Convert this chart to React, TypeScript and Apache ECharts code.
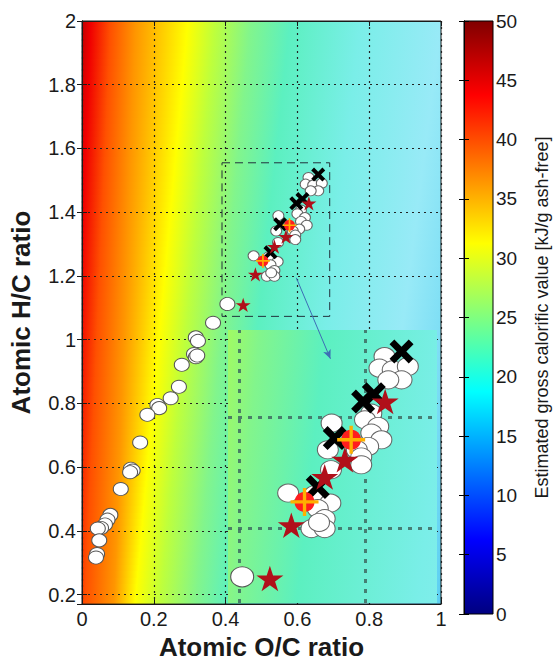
import React, { useEffect, useRef } from 'react';
import * as echarts from 'echarts';

const FONT = '"Liberation Sans", Arial, Helvetica, sans-serif';

// ---- data (atomic O/C, atomic H/C) ----
const litOC = [0.405, 0.365, 0.317, 0.323, 0.312, 0.317, 0.321, 0.278, 0.27, 0.247, 0.21, 0.215, 0.182, 0.162, 0.136, 0.141, 0.134, 0.108, 0.079, 0.071, 0.064, 0.053, 0.044, 0.048, 0.042, 0.039];
const litHC = [1.112, 1.053, 1.007, 0.996, 0.955, 0.945, 0.95, 0.921, 0.852, 0.816, 0.795, 0.785, 0.764, 0.677, 0.595, 0.589, 0.584, 0.531, 0.45, 0.435, 0.42, 0.409, 0.407, 0.37, 0.327, 0.316];

const clusterOC = [0.631, 0.623, 0.644, 0.668, 0.658, 0.637, 0.61, 0.6, 0.547, 0.621, 0.61, 0.626, 0.605, 0.587, 0.541, 0.594, 0.594, 0.546, 0.52, 0.478, 0.545, 0.525, 0.536, 0.515, 0.536, 0.527];
const clusterHC = [1.509, 1.488, 1.485, 1.491, 1.467, 1.467, 1.407, 1.395, 1.389, 1.383, 1.371, 1.359, 1.347, 1.341, 1.341, 1.328, 1.314, 1.305, 1.26, 1.263, 1.245, 1.235, 1.217, 1.199, 1.199, 1.21];

const crossOC = [0.658, 0.597, 0.614, 0.552, 0.525];
const crossHC = [1.518, 1.428, 1.441, 1.362, 1.274];

const starOC = [0.632, 0.568, 0.536, 0.483, 0.449];
const starHC = [1.428, 1.323, 1.292, 1.205, 1.109];

const refOC = [0.578, 0.504];
const refHC = [1.359, 1.247];

// zoom box in the main plot and the range shown by the enlarged view
const zoomBoxOC = [0.39, 0.69];
const zoomBoxHC = [1.073, 1.555];
const insetOC = [0.3825, 0.7143];
const insetHC = [1.0649, 1.5568];
const insetGridOC = [0.4, 0.6];
const insetGridHC = [1.2, 1.4];
const arrowFrom = [0.597, 1.194];
const arrowTo = [0.692, 0.94];

// background colour field: O/C position of each colour at H/C = 0.2 and at H/C = 2.0
const bgColors = ['#c00000', '#f00000', '#ff5000', '#ff9600', '#ffff00', '#beff3c', '#82f58c', '#5cf0c0', '#7aeee8', '#98eaf7', '#5ccff2'];
const bgOCLow = [-0.1, -0.04, 0.01, 0.09, 0.15, 0.22, 0.32, 0.41, 0.6, 0.8, 1.0];
const bgOCHigh = [0.0, 0.025, 0.08, 0.15, 0.295, 0.372, 0.47, 0.58, 0.775, 1.0, 1.3];

// jet colour map for the colour bar
const jetStops = [
  [0, '#000080'], [0.125, '#0000ff'], [0.375, '#00ffff'], [0.625, '#ffff00'], [0.875, '#ff0000'], [1, '#800000'],
];

const pts = (xs: number[], ys: number[]) => xs.map((x, i) => [x, ys[i]]);

const STAR = 'path://M0,-10L2.245,-3.09L9.511,-3.09L3.633,1.18L5.878,8.09L0,3.82L-5.878,8.09L-3.633,1.18L-9.511,-3.09L-2.245,-3.09Z';
const CROSS = 'path://M-10,-6L-6,-10L0,-4L6,-10L10,-6L4,0L10,6L6,10L0,4L-6,10L-10,6L-4,0Z';
const PLUS = 'path://M-1.2,-10L1.2,-10L1.2,-1.2L10,-1.2L10,1.2L1.2,1.2L1.2,10L-1.2,10L-1.2,1.2L-10,1.2L-10,-1.2L-1.2,-1.2Z';

function markerSeries(xi: number, z: number, big: boolean) {
  const s = (a: any, b: any) => (big ? b : a);
  const base = { type: 'scatter', xAxisIndex: xi, yAxisIndex: xi, z, silent: true };
  return [
    {
      ...base, data: pts(litOC, litHC), symbol: 'circle', symbolSize: s([15, 13], [23, 20]),
      itemStyle: { color: '#ffffff', borderColor: '#555', borderWidth: 1, opacity: 1 },
    },
    {
      ...base, data: pts(clusterOC, clusterHC), symbol: 'circle', symbolSize: s([11, 10], [21, 18]),
      itemStyle: { color: '#ffffff', borderColor: '#666', borderWidth: 1, opacity: 1 },
    },
    {
      ...base, data: pts(crossOC, crossHC), symbol: CROSS, symbolSize: s(14, 24),
      itemStyle: { color: '#000000', opacity: 1 },
    },
    {
      ...base, data: pts(starOC, starHC), symbol: STAR, symbolKeepAspect: true, symbolSize: s(15, 27),
      itemStyle: { color: '#b0101a', opacity: 1 },
    },
    {
      ...base, data: pts(refOC, refHC), symbol: 'circle', symbolSize: s(11, 20),
      itemStyle: { color: '#ff1e1e', opacity: 1 },
    },
    {
      ...base, data: pts(refOC, refHC), symbol: PLUS, symbolSize: s(14, 28),
      itemStyle: { color: '#ffb000', opacity: 1 },
    },
  ];
}

export default function App() {
  const ref = useRef<HTMLDivElement>(null);
  useEffect(() => {
    if (!ref.current) return;
    const chart = echarts.init(ref.current, null, { renderer: 'svg' });
    const axisCol = '#1a1a1a';
    const jet = new echarts.graphic.LinearGradient(0, 1, 0, 0, jetStops.map(([o, c]) => ({ offset: o as number, color: c as string })));

    const main = markerSeries(0, 5, false);
    (main[0] as any).markArea = {
      silent: true,
      z: 1,
      label: { show: false },
      itemStyle: { color: 'rgba(0,0,0,0)', borderColor: '#22323c', borderWidth: 1, borderType: [8, 5] },
      data: [[{ coord: [zoomBoxOC[0], zoomBoxHC[1]] }, { coord: [zoomBoxOC[1], zoomBoxHC[0]] }]],
    };
    (main[0] as any).markLine = {
      silent: true,
      z: 6,
      symbol: ['none', 'arrow'],
      symbolSize: [6, 9],
      label: { show: false },
      lineStyle: { color: '#3d6db5', width: 1, type: 'solid' },
      data: [[{ coord: arrowFrom }, { coord: arrowTo }]],
    };

    const option: any = {
      animation: false,
      textStyle: { fontFamily: FONT },
      grid: [
        { left: 81, top: 21, width: 360, height: 592, show: true, borderColor: axisCol, borderWidth: 1, backgroundColor: 'rgba(0,0,0,0)', z: 0 },
        { left: 228, top: 330, width: 209, height: 273, show: false, z: 1 },
        { left: 464, top: 21, width: 29, height: 593, show: true, borderColor: '#000', borderWidth: 1, backgroundColor: jet },
      ],
      xAxis: [
        {
          gridIndex: 0, type: 'value', min: 0, max: 1, interval: 0.2, position: 'bottom',
          axisLine: { show: true, lineStyle: { color: axisCol } },
          axisTick: { show: true, inside: true, length: 5, lineStyle: { color: axisCol } },
          axisLabel: { fontSize: 20, color: axisCol, margin: 5, fontFamily: FONT },
          splitLine: { show: true, lineStyle: { type: [2, 4], color: '#222', width: 1.2 } },
          name: 'Atomic O/C ratio', nameLocation: 'middle', nameGap: 26,
          nameTextStyle: { fontSize: 26, fontWeight: 'bold', color: axisCol, fontFamily: FONT },
        },
        {
          gridIndex: 0, type: 'value', min: 0, max: 1, interval: 0.2, position: 'top',
          axisLine: { show: true, lineStyle: { color: axisCol } },
          axisTick: { show: true, inside: true, length: 5, lineStyle: { color: axisCol } },
          axisLabel: { show: false }, splitLine: { show: false },
        },
        { gridIndex: 1, type: 'value', min: insetOC[0], max: insetOC[1], show: false },
        { gridIndex: 2, type: 'value', min: 0, max: 1, show: false },
      ],
      yAxis: [
        {
          gridIndex: 0, type: 'value', min: 0.17, max: 2, splitNumber: 9, position: 'left',
          axisLine: { show: true, lineStyle: { color: axisCol } },
          axisTick: { show: true, inside: true, length: 5, lineStyle: { color: axisCol } },
          axisLabel: {
            fontSize: 20, color: axisCol, margin: 6, fontFamily: FONT,
            formatter: (v: number) => (Math.abs(v * 5 - Math.round(v * 5)) < 1e-6 ? String(Math.round(v * 10) / 10) : ''),
          },
          splitLine: { show: true, lineStyle: { type: [2, 4], color: '#222', width: 1.2 } },
          name: 'Atomic H/C ratio', nameLocation: 'middle', nameGap: 48,
          nameTextStyle: { fontSize: 26, fontWeight: 'bold', color: axisCol, fontFamily: FONT },
        },
        {
          gridIndex: 0, type: 'value', min: 0.17, max: 2, splitNumber: 9, position: 'right',
          axisLine: { show: true, lineStyle: { color: axisCol } },
          axisTick: { show: true, inside: true, length: 5, lineStyle: { color: axisCol } },
          axisLabel: { show: false }, splitLine: { show: false },
        },
        { gridIndex: 1, type: 'value', min: insetHC[0], max: insetHC[1], show: false },
        {
          gridIndex: 2, type: 'value', min: 0, max: 50, interval: 5, position: 'right',
          axisLine: { show: true, lineStyle: { color: '#000' } },
          axisTick: { show: true, inside: true, length: 5, lineStyle: { color: '#000' } },
          axisLabel: { fontSize: 19, color: axisCol, margin: 3, fontFamily: FONT },
          splitLine: { show: false },
          name: 'Estimated gross calorific value [kJ/g ash-free]', nameLocation: 'middle', nameRotate: 90, nameGap: 40,
          nameTextStyle: { fontSize: 18, color: axisCol, fontFamily: FONT },
        },
        {
          gridIndex: 2, type: 'value', min: 0, max: 50, interval: 5, position: 'left',
          axisLine: { show: true, lineStyle: { color: '#000' } },
          axisTick: { show: true, inside: true, length: 5, lineStyle: { color: '#000' } },
          axisLabel: { show: false }, splitLine: { show: false },
        },
      ],
      series: [
        {
          type: 'scatter', xAxisIndex: 2, yAxisIndex: 2, z: 2, silent: true, data: [],
          markLine: {
            silent: true, z: 2, symbol: 'none', label: { show: false },
            lineStyle: { type: [4, 6], width: 3, color: '#3e6a62', opacity: 0.85 },
            data: [
              ...insetGridOC.map((v) => ({ xAxis: v })),
              ...insetGridHC.map((v) => ({ yAxis: v })),
            ],
          },
        },
        ...markerSeries(2, 3, true),
        ...main,
      ],
    };
    chart.setOption(option);

    const strips = (gridIndex: number, xr: number[], yr: number[], n: number, z: number) => {
      const els: any[] = [];
      const tl = chart.convertToPixel({ gridIndex }, [xr[0], yr[1]]) as number[];
      const br = chart.convertToPixel({ gridIndex }, [xr[1], yr[0]]) as number[];
      for (let i = 0; i < n; i++) {
        const ya = yr[1] - ((yr[1] - yr[0]) * i) / n;
        const yb = yr[1] - ((yr[1] - yr[0]) * (i + 1)) / n;
        const ym = (ya + yb) / 2;
        const t = (ym - 0.2) / 1.8;
        const px = bgColors.map((_, k) => {
          const x = bgOCLow[k] + (bgOCHigh[k] - bgOCLow[k]) * t;
          return (chart.convertToPixel({ gridIndex }, [x, ym]) as number[])[0];
        });
        const y0 = Math.floor((chart.convertToPixel({ gridIndex }, [xr[0], ya]) as number[])[1]);
        const y1 = Math.ceil((chart.convertToPixel({ gridIndex }, [xr[0], yb]) as number[])[1]);
        const g0 = px[0];
        const g1 = px[px.length - 1];
        const fill = new echarts.graphic.LinearGradient(
          g0, 0, g1, 0,
          px.map((p, k) => ({ offset: Math.min(1, Math.max(0, (p - g0) / (g1 - g0))), color: bgColors[k] })),
          true,
        );
        els.push({
          type: 'rect', z, silent: true,
          shape: { x: tl[0], y: Math.max(tl[1], y0), width: br[0] - tl[0], height: Math.min(br[1], y1 + 1) - Math.max(tl[1], y0) },
          style: { fill },
        });
      }
      return els;
    };

    chart.setOption({
      graphic: {
        elements: [
          ...strips(0, [0, 1], [0.17, 2], 90, -1),
          ...strips(1, insetOC, insetHC, 45, 1),
        ],
      },
    });

    return () => chart.dispose();
  }, []);
  return <div ref={ref} style={{ position: 'absolute', left: 0, top: 0, width: 557, height: 665, background: '#fff' }} />;
}
